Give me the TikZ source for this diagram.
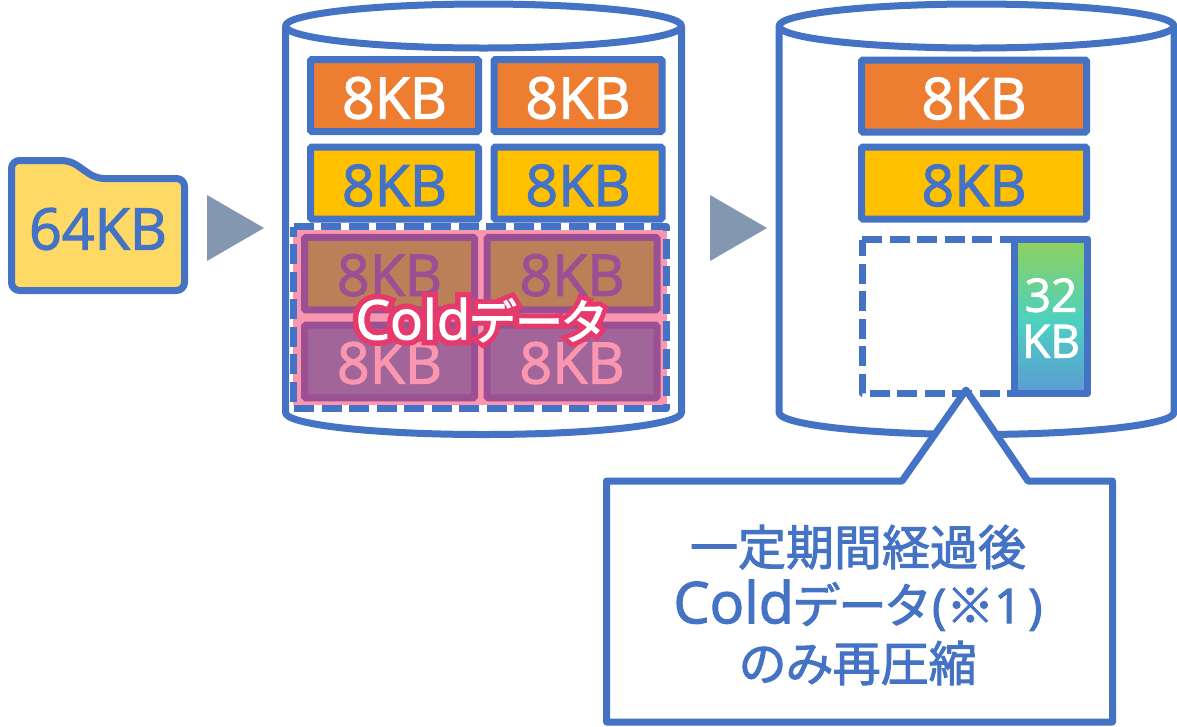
\documentclass[tikz,border=0pt]{standalone}
\usepackage{fontspec}
\setmainfont{Open Sans}[FakeBold=2]
\newfontfamily\jpfont{Noto Sans CJK JP}[RawFeature=+palt, FakeBold=2]
\newfontfamily\glowfont{Open Sans}[FakeBold=22]
\newfontfamily\jpglowfont{Noto Sans CJK JP}[RawFeature=+palt, FakeBold=22]
\newcommand{\jp}[1]{{\fontsize{36}{36}\selectfont\jpfont #1}}
\usetikzlibrary{positioning, shapes, calc}
\definecolor{lineblue}{HTML}{4472C4}
\definecolor{hotorange}{HTML}{ED7D31}
\definecolor{warmyellow}{HTML}{FFC000}
\definecolor{folderyellow}{HTML}{FFD966}
\definecolor{arrowgray}{HTML}{8497B0}
\definecolor{coldpink}{HTML}{FB96B0}
\definecolor{coldline}{HTML}{9B5093}
\definecolor{coldbrown}{HTML}{BC8058}
\definecolor{coldpurple}{HTML}{A1659A}
\definecolor{glowred}{HTML}{E63A6C}
\definecolor{gradtop}{HTML}{8FD15C}
\definecolor{gradmid}{HTML}{4DD1BF}
\definecolor{gradlow}{HTML}{5B9BD5}
\tikzset{
    outline/.style={draw=lineblue, line width=5.25pt, line join=round},
    dashedline/.style={draw=lineblue, line width=5.25pt, line join=round, dash pattern=on 15pt off 5.625pt},
    block/.style={draw=lineblue, line width=5.25pt, rounded corners=1pt, inner sep=0pt, minimum width=126pt, minimum height=54pt, text height=34.5pt, text depth=0pt, font=\fontsize{43}{43}\selectfont},
    wideblock/.style={block, minimum width=168.75pt},
    coldblock/.style={block, draw=coldline, minimum width=127.5pt, minimum height=54.4pt, text height=33pt},
    playarrow/.style={fill=arrowgray, draw=none},
}
\begin{document}
\begin{tikzpicture}[x=0.75pt, y=-0.75pt]
    \useasboundingbox (0, 0) rectangle (1177, 726);

    % folder
    \draw[outline, fill=folderyellow, rounded corners=6pt] (11.5, 290.5) -- (11.5, 160.5) -- (70, 160.5) -- (96, 178.5) -- (184.5, 178.5) -- (184.5, 290.5) -- cycle;
    \node[inner sep=0pt, text=lineblue, font=\fontsize{43}{43}\selectfont] (folder) at (98, 229) {64KB};
    \fill[playarrow] (207, 195) -- (264, 228) -- (207, 261) -- cycle;
    \fill[playarrow] (710, 195) -- (767, 228) -- (710, 261) -- cycle;

    % left cylinder
    \draw[outline] (285.5, 26) -- (285.5, 412.5) arc[start angle=180, end angle=0, x radius=198, y radius=22] -- (681.5, 26);
    \draw[outline] (483.5, 26) ellipse[x radius=198, y radius=22];

    \node[block, fill=hotorange, text=white] (a1) at (394.5, 95.5) {8KB};
    \node[block, fill=hotorange, text=white] (a2) at (578, 95.5) {8KB};
    \node[block, fill=warmyellow, text=lineblue] (b1) at (394.5, 183) {8KB};
    \node[block, fill=warmyellow, text=lineblue] (b2) at (578, 183) {8KB};

    \fill[coldpink] (293, 230) rectangle (667, 405);
    \draw[dashedline] (293.5, 226.5) -- (666.5, 226.5) -- (666.5, 408.5) -- (293.5, 408.5) -- cycle;
    \node[coldblock, fill=coldbrown, text=coldline] (c1) at (389.5, 273.7) {8KB};
    \node[coldblock, fill=coldbrown, text=coldline] (c2) at (572, 273.7) {8KB};
    \node[coldblock, fill=coldpurple, text=coldpink] (d1) at (389.5, 361.5) {8KB};
    \node[coldblock, fill=coldpurple, text=coldpink] (d2) at (572, 361.5) {8KB};

    % glow behind the cold label
    \node[inner sep=0pt, text=glowred, font=\fontsize{41}{41}\selectfont\glowfont] (coldglow) at (480, 320) {Cold{\fontsize{36}{36}\selectfont\jpglowfont データ}};
    \node[inner sep=0pt, text=white, font=\fontsize{41}{41}\selectfont] (coldlabel) at (480, 320) {Cold\jp{データ}};

    % right cylinder
    \draw[outline] (779, 26) -- (779, 412.5) arc[start angle=180, end angle=0, x radius=197.5, y radius=22] -- (1174, 26);
    \draw[outline] (976.5, 26) ellipse[x radius=197.5, y radius=22];

    \node[wideblock, fill=hotorange, text=white] (e) at (974, 96) {8KB};
    \node[wideblock, fill=warmyellow, text=lineblue] (f) at (974, 183) {8KB};
    \draw[dashedline] (862, 239.5) -- (1087.5, 239.5) -- (1087.5, 393.5) -- (862, 393.5) -- cycle;
    \shade[top color=gradtop, bottom color=gradmid] (1014.5, 239.5) rectangle (1087.5, 320);
    \shade[top color=gradmid, bottom color=gradlow] (1014.5, 320) rectangle (1087.5, 393.5);
    \draw[outline] (1014.5, 239.5) rectangle (1087.5, 393.5);
    \node[inner sep=0pt, align=center, text=white, font=\fontsize{34.5}{34.5}\selectfont] (small) at (1051, 318) {32\\KB};

    % callout
    \draw[outline, fill=white] (606.5, 481) -- (902, 481) -- (966, 390) -- (1028, 481) -- (1112.5, 481) -- (1112.5, 722) -- (606.5, 722) -- cycle;
    \node[inner sep=0pt, align=center, text=lineblue, font=\fontsize{43}{43.5}\selectfont] (note) at (858, 605) {\jp{一定期間経過後}\\Cold\jp{データ}\kern3pt{\fontsize{36}{36}\selectfont(}\jp{※}{\fontsize{36}{36}\selectfont 1\kern5pt)}\\\jp{のみ再圧縮}};
\end{tikzpicture}
\end{document}
